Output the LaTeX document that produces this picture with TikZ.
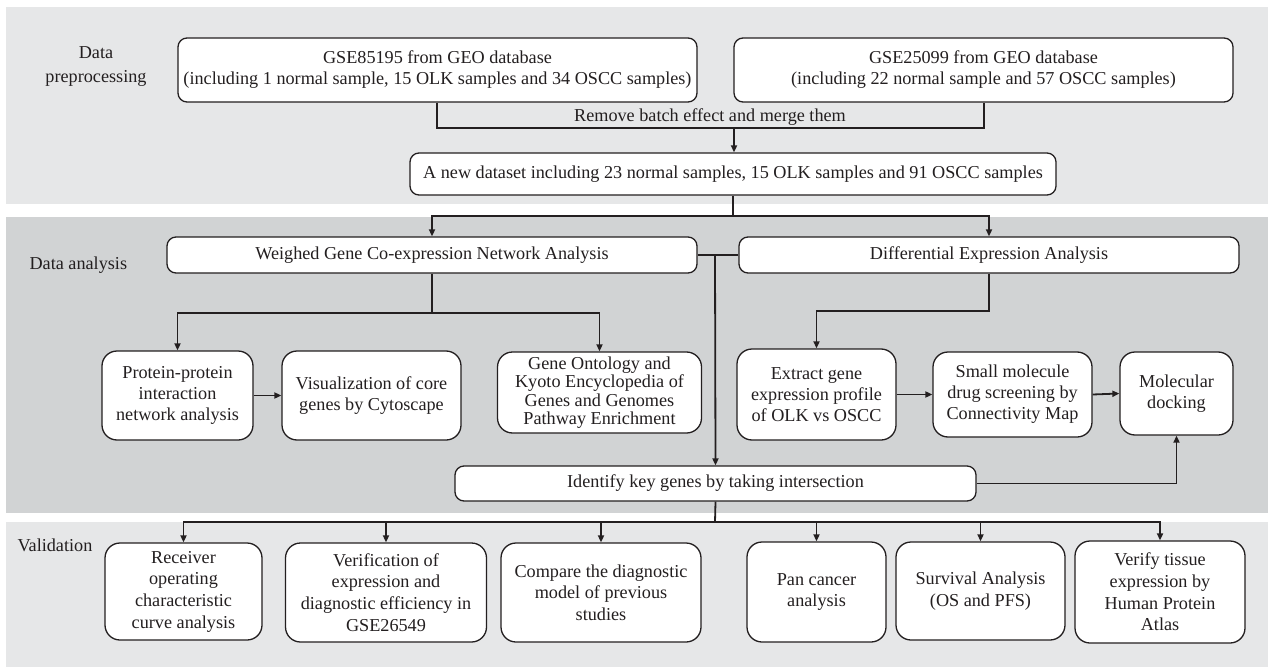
\documentclass[tikz,border=0pt]{standalone}
\usepackage{fontspec}
\setmainfont{Liberation Serif}
\usetikzlibrary{arrows.meta}
\definecolor{panelA}{HTML}{E6E7E8}
\definecolor{panelB}{HTML}{D1D3D4}
\definecolor{ink}{HTML}{231F20}
\begin{document}
\begin{tikzpicture}[x=1pt,y=-1pt,
  font=\fontsize{18.2}{21}\selectfont,
  box/.style={draw=ink, line width=1.3pt, fill=white, rounded corners=9pt, align=center, inner sep=0pt, text=ink},
  rbox/.style={box, rounded corners=15pt},
  conn/.style={draw=ink, line width=1.8pt},
  arr/.style={conn, -{Triangle[length=7pt,width=6pt]}},
  lbl/.style={text=ink, align=center}]
\useasboundingbox (0,0) rectangle (1273,671);
% panels
\fill[panelA] (6,7) rectangle (1268,204);
\fill[panelB] (6,217) rectangle (1268,513);
\fill[panelA] (6,522) rectangle (1268,667);
% labels
\node[lbl, font=\fontsize{18.2}{24}\selectfont] (lp) at (96,67) {Data\\preprocessing};
\node[lbl, anchor=west] (la) at (26,265) {Data analysis};
\node[lbl, anchor=west] (lv) at (14,545) {Validation};
% row 1
\node[box, minimum width=519pt, minimum height=64pt] (A) at (437.5,70) {GSE85195 from GEO database\\(including 1 normal sample, 15 OLK samples and 34 OSCC samples)};
\node[box, minimum width=499pt, minimum height=64pt] (B) at (983.5,70) {GSE25099 from GEO database\\(including 22 normal sample and 57 OSCC samples)};
\coordinate (mg) at (734,128);
\node[lbl] (rb) at (710,117) {Remove batch effect and merge them};
\node[box, minimum width=646pt, minimum height=42pt] (C) at (733,174) {A new dataset including 23 normal samples, 15 OLK samples and 91 OSCC samples};
\draw[conn] (A.south -| 437,0) |- (mg) -| (B.south -| 984,0);
\draw[arr] (mg) -- (C.north -| mg);
% row 2
\node[box, minimum width=530pt, minimum height=36pt] (W) at (432,255) {Weighed Gene Co-expression Network Analysis};
\node[box, minimum width=500pt, minimum height=36pt] (D) at (989,255) {Differential Expression Analysis};
\coordinate (s1) at (733,216);
\draw[conn] (C.south -| s1) -- (s1);
\draw[arr] (s1) -| (W.north);
\draw[arr] (s1) -| (D.north);
% middle boxes
\node[rbox, minimum width=151pt, minimum height=89pt] (P) at (177.5,395.5) {Protein-protein\\interaction\\network analysis};
\node[rbox, minimum width=179pt, minimum height=89pt] (V) at (371.5,395.5) {Visualization of core\\genes by Cytoscape};
\node[rbox, minimum width=204pt, minimum height=81pt, font=\fontsize{18.2}{18.5}\selectfont] (G) at (599.5,392.5) {Gene Ontology and\\Kyoto Encyclopedia of\\Genes and Genomes\\Pathway Enrichment};
\node[rbox, minimum width=159pt, minimum height=91pt] (E) at (816.5,394.5) {Extract gene\\expression profile\\of OLK vs OSCC};
\node[rbox, minimum width=159pt, minimum height=85pt] (S) at (1012.5,394.5) {Small molecule\\drug screening by\\Connectivity Map};
\node[rbox, minimum width=113pt, minimum height=83pt] (M) at (1176.5,393.5) {Molecular\\docking};
\coordinate (w1) at (432,313);
\draw[conn] (W.south) -- (w1);
\draw[arr] (w1) -| (P.north);
\draw[arr] (w1) -| (G.north);
\draw[arr] (P.east) -- (V.west);
\coordinate (d1) at (989,311);
\draw[arr] (D.south) -- (d1) -| (E.north);
\draw[arr] (E.east) -- (S.west);
\draw[arr] (S.east) -- (M.west);
% identify
\node[box, minimum width=521pt, minimum height=35pt] (I) at (715.5,483.5) {Identify key genes by taking intersection};
\coordinate (j) at (715,256);
\draw[conn] (W.east) -- (D.west);
\draw[arr] (j) -- (I.north);
\draw[arr] (I.east) -| (M.south);
% validation
\coordinate (i1) at (715,522);
\draw[conn] (I.south) -- (i1);
\begin{scope}[font=\fontsize{18.2}{21.7}\selectfont]
\node[rbox, minimum width=157pt, minimum height=97pt] (V1) at (183.5,591.5) {Receiver\\operating\\characteristic\\curve analysis};
\node[rbox, minimum width=201pt, minimum height=99pt] (V2) at (386,592.5) {Verification of\\expression and\\diagnostic efficiency in\\GSE26549};
\node[rbox, minimum width=200pt, minimum height=99pt] (V3) at (601,592.5) {Compare the diagnostic\\model of previous\\studies};
\node[rbox, minimum width=139pt, minimum height=100pt] (V4) at (816.5,592) {Pan cancer\\analysis};
\node[rbox, minimum width=169pt, minimum height=98pt] (V5) at (980.5,591) {Survival Analysis\\(OS and PFS)};
\node[rbox, minimum width=170pt, minimum height=102pt] (V6) at (1160,592) {Verify tissue\\expression by\\Human Protein\\Atlas};
\end{scope}
\foreach \n in {V1,V2,V3,V4,V5,V6} \draw[arr] (i1) -| (\n.north);
\end{tikzpicture}
\end{document}
